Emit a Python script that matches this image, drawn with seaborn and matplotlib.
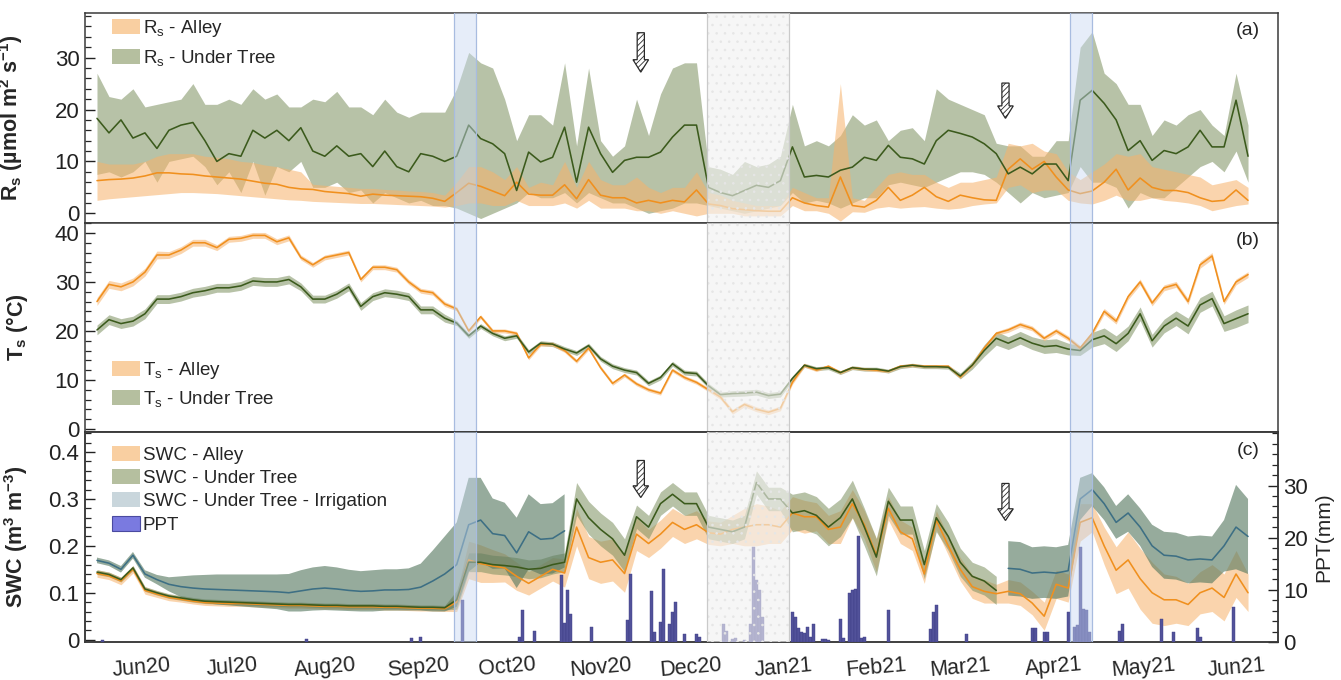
import numpy as np
import pandas as pd
import matplotlib
matplotlib.use("Agg")
import matplotlib.pyplot as plt
import matplotlib.dates as mdates
from matplotlib.ticker import MultipleLocator, FixedLocator
from matplotlib.patches import Patch, FancyArrow
import seaborn as sns

nan = np.nan

# ---------------- sampling grid (every 4th day of the daily record) ----------------
GRID_START = "2020-05-17"
GRID_STEP = "4D"
GRID_LEN = 97

# ---------------- (a) soil respiration, umol m-2 s-1 ----------------
RS_ALLEY = [6.3, 6.5, 6.6, 6.8, 7.2, 7.8, 7.8, 7.6, 7.5, 7.2, 7.0, 6.8, 6.6, 6.2, 5.8, 5.6, 5.0, 4.7, 4.6, 4.2,
            4.0, 3.8, 3.3, 3.7, 3.5, 3.4, 3.3, 3.2, 2.9, 2.3,
            4.0, 5.8, 5.2, 4.3, 3.4, 6.0, 3.7, 3.5, 3.5, 5.5, 2.8, 6.5, 3.5, 3.0, 3.0, 2.0, 2.5, 2.0, 2.5, 2.2,
            4.5, 1.8, 1.5, 0.9, 0.7, 0.5, 0.4, 0.4, 3.0, 2.0, 1.5, 1.2, 7.0, 1.5, 1.2, 2.5,
            5.0, 2.5, 3.5, 5.0, 3.2, 2.3, 3.5, 3.0, 2.6, 2.5, 8.5, 10.5, 8.5, 10.0, 7.0, 4.5, 3.8, 4.3, 6.0, 8.5,
            4.5, 6.8, 5.0, 4.4, 4.4, 4.0, 3.0, 2.3, 2.5, 4.5, 2.5]
RS_ALLEY_LO = [2.5, 2.8, 3.0, 3.2, 3.4, 3.6, 3.8, 4.0, 4.0, 3.9, 3.8, 3.6, 3.4, 3.2, 3.0, 2.8, 2.6, 2.5, 2.3, 2.2,
               2.1, 2.0, 1.9, 1.9, 1.8, 1.7, 1.6, 1.5, 1.4, 1.2,
               1.5, 2.0, 2.0, 1.5, 1.5, 2.5, 1.5, 1.5, 1.5, 2.0, 1.0, 2.5, 1.0, 1.0, 1.0, 0.5, 0.5, 0.0, 0.5, 0.0,
               -0.5, 0.0, 0.0, 0.0, -0.5, -0.5, -0.5, -0.5, 1.5, 0.5, 0.5, 0.0, -1.5, 0.3, 0.2, 1.0,
               1.3, 1.0, 1.2, 1.3, 1.0, 0.8, 1.0, 1.5, 1.8, 2.0, 5.0, 5.5, 4.0, 4.5, 4.5, 2.5, 2.0, 1.8, 2.5, 3.5,
               2.5, 2.5, 3.0, 2.5, 2.3, 2.0, 1.5, 0.5, 1.0, 1.5, 1.8]
RS_ALLEY_HI = [10.0, 9.5, 9.5, 9.5, 10.0, 11.0, 11.5, 11.5, 11.5, 11.0, 10.8, 10.5, 10.0, 9.8, 9.3, 9.0, 8.5, 8.0, 5.6, 5.4,
               5.2, 5.0, 4.8, 4.8, 4.6, 4.5, 4.3, 4.2, 4.0, 3.5,
               6.0, 9.0, 9.0, 8.0, 6.5, 9.0, 5.0, 6.0, 5.5, 10.0, 5.0, 10.0, 6.5, 5.5, 5.5, 7.0, 5.0, 4.0, 5.0, 5.0,
               8.0, 4.0, 3.5, 2.5, 2.0, 1.5, 1.5, 1.5, 5.0, 4.0, 3.0, 3.0, 25.0, 3.0, 2.5, 5.0,
               7.5, 8.0, 7.5, 7.5, 6.0, 5.0, 6.0, 6.0, 6.5, 7.0, 13.5, 13.0, 13.5, 12.0, 11.5, 8.0, 6.5, 8.0, 9.5, 11.5,
               11.0, 11.5, 9.0, 8.5, 8.0, 7.5, 7.0, 5.5, 6.0, 6.5, 5.0]
RS_TREE = [18.3, 15.5, 18.0, 14.5, 15.5, 12.5, 16.0, 17.0, 17.5, 14.0, 10.0, 11.5, 11.0, 16.0, 14.5, 16.0, 14.0, 16.5, 12.0, 11.0,
           13.0, 11.0, 11.5, 9.0, 12.0, 9.0, 8.0, 11.5, 11.0, 10.0,
           11.0, 17.0, 14.4, 13.4, 11.5, 4.4, 11.8, 9.9, 10.8, 16.6, 6.0, 16.6, 11.5, 7.9, 10.2, 10.8, 10.8, 11.8, 14.7, 17.0,
           17.0, 5.0, 4.0, 3.4, 4.4, 5.4, 5.0, 6.3, 12.8, 7.0, 7.3, 7.0, 8.3, 8.9, 10.8, 10.2,
           13.1, 10.8, 10.5, 9.5, 14.0, 16.0, 15.4, 14.7, 13.4, 11.5, 7.6, 8.9, 7.6, 9.5, 9.5, 6.3, 21.8, 23.7, 21.2, 18.0,
           12.1, 14.0, 10.2, 12.1, 11.5, 12.8, 16.0, 12.8, 12.8, 21.8, 11.0]
RS_TREE_LO = [7.5, 8.0, 7.0, 8.0, 10.0, 6.0, 10.0, 10.5, 11.0, 9.0, 5.5, 8.0, 4.0, 10.0, 3.5, 9.0, 8.0, 10.0, 5.0, 5.0,
              6.0, 4.0, 4.5, 2.0, 4.0, 3.0, 2.0, 2.5, 1.5, 1.5,
              1.0, 0.0, -1.0, 0.0, 1.0, 2.0, 4.0, 3.0, 3.0, 4.0, 2.0, 4.0, 3.0, 2.0, 2.0, 1.0, 0.0, 0.5, 1.0, 2.0,
              2.0, 1.5, 1.0, 0.5, 0.0, 0.5, 1.0, 1.5, 4.0, 2.0, 2.5, 2.0, 1.0, 2.0, 3.0, 3.0,
              5.5, 6.0, 5.5, 5.0, 6.0, 7.0, 8.0, 8.0, 7.5, 6.0, 4.0, 2.0, 4.0, 3.0, 3.5, 4.0, 9.0, 6.0, 6.0, 5.0,
              1.0, 4.0, 3.0, 3.0, 5.0, 7.0, 9.0, 10.0, 8.0, 12.0, 6.0]
RS_TREE_HI = [27.0, 22.5, 22.0, 24.0, 20.5, 21.0, 21.5, 22.0, 25.0, 21.0, 21.0, 22.0, 21.0, 24.0, 22.0, 23.0, 20.5, 20.5, 22.0, 21.5,
              23.5, 20.5, 20.5, 19.0, 22.0, 19.5, 18.5, 19.5, 19.5, 19.5,
              24.0, 31.0, 29.0, 28.0, 22.0, 14.0, 19.0, 19.0, 17.0, 29.0, 13.0, 28.0, 14.0, 11.0, 13.0, 22.0, 15.0, 23.0, 28.0, 29.0,
              29.0, 9.0, 8.5, 7.5, 10.0, 9.0, 9.5, 11.0, 21.0, 13.0, 14.0, 13.0, 15.0, 19.0, 17.0, 18.0,
              14.0, 16.0, 16.5, 14.0, 24.0, 22.0, 21.0, 20.0, 19.0, 13.5, 13.0, 13.0, 11.0, 11.0, 14.0, 14.0, 32.0, 35.0, 27.0, 25.0,
              21.0, 21.0, 15.0, 18.0, 17.0, 19.0, 20.0, 17.0, 15.0, 27.0, 17.0]

# ---------------- (b) soil temperature, degC ----------------
TS_ALLEY = [26.0, 29.5, 29.0, 30.0, 32.0, 35.5, 35.5, 36.5, 38.0, 38.0, 37.0, 38.7, 38.9, 39.5, 39.5, 38.2, 39.0, 35.0, 33.5, 35.0,
            35.5, 36.0, 30.5, 33.0, 33.0, 32.5, 30.0, 28.2, 27.8, 25.5,
            24.5, 20.0, 22.9, 20.0, 20.0, 19.5, 14.5, 17.3, 17.3, 16.0, 13.8, 16.5, 12.5, 9.3, 11.0, 9.2, 8.0, 7.3, 12.0, 10.5,
            9.5, 8.0, 6.5, 3.5, 5.0, 4.0, 3.4, 4.2, 9.5, 13.0, 12.0, 12.8, 11.5, 12.5, 12.2, 12.0,
            11.8, 12.8, 13.0, 12.8, 12.8, 12.8, 10.6, 13.0, 16.5, 19.5, 20.2, 21.3, 20.5, 18.5, 20.0, 18.5, 16.5, 19.5, 24.0, 22.0,
            27.0, 30.0, 25.7, 28.8, 29.5, 26.0, 33.5, 35.3, 26.0, 30.0, 31.5]
TS_ALLEY_SD = [0.8, 0.8, 0.8, 0.8, 0.8, 0.8, 0.7, 0.7, 0.7, 0.7, 0.6, 0.6, 0.6, 0.6, 0.6, 0.6, 0.6, 0.5, 0.5, 0.5,
               0.5, 0.5, 0.5, 0.5, 0.5, 0.5, 0.5, 0.5, 0.5, 0.5,
               0.4, 0.4, 0.4, 0.4, 0.4, 0.4, 0.4, 0.4, 0.4, 0.4, 0.4, 0.4, 0.4, 0.4, 0.4, 0.4, 0.4, 0.4, 0.4, 0.4,
               0.4, 0.4, 0.5, 0.5, 0.5, 0.5, 0.5, 0.5, 0.4, 0.4, 0.3, 0.3, 0.3, 0.3, 0.3, 0.3,
               0.3, 0.3, 0.3, 0.3, 0.3, 0.3, 0.3, 0.3, 0.4, 0.4, 0.5, 0.5, 0.5, 0.5, 0.5, 0.5, 0.5, 0.5, 0.6, 0.6,
               0.6, 0.6, 0.6, 0.6, 0.6, 0.6, 0.7, 0.7, 0.6, 0.6, 0.6]
TS_TREE = [20.2, 22.3, 21.5, 22.0, 23.5, 26.5, 26.5, 27.0, 27.8, 28.2, 28.8, 28.8, 29.2, 30.2, 30.0, 30.0, 30.5, 29.0, 26.5, 26.5,
           27.5, 29.0, 25.0, 27.0, 27.8, 27.5, 27.0, 24.3, 24.3, 22.6,
           21.6, 19.0, 21.0, 19.5, 18.5, 19.0, 15.7, 17.5, 17.3, 16.3, 15.5, 17.0, 14.3, 12.8, 12.0, 11.5, 9.3, 10.5, 13.3, 11.5,
           11.3, 8.8, 7.0, 7.2, 7.3, 7.5, 6.8, 7.1, 10.3, 13.0, 12.3, 12.5, 11.5, 12.5, 12.2, 12.2,
           11.8, 12.7, 13.0, 12.7, 12.7, 12.6, 10.8, 13.0, 16.0, 18.5, 17.5, 18.6, 17.5, 16.8, 17.0, 16.3, 16.0, 18.2, 19.0, 17.4,
           19.5, 23.5, 18.0, 21.0, 22.6, 21.0, 25.3, 26.6, 21.5, 22.5, 23.5]
TS_TREE_SD = [1.0, 1.0, 1.0, 1.0, 1.0, 0.9, 0.9, 0.9, 0.9, 0.9, 0.9, 0.9, 0.9, 0.9, 0.9, 0.9, 0.9, 0.8, 0.8, 0.8,
              0.8, 0.8, 0.8, 0.8, 0.8, 0.8, 0.8, 0.8, 0.8, 0.8,
              0.5, 0.5, 0.5, 0.5, 0.5, 0.5, 0.5, 0.5, 0.5, 0.5, 0.5, 0.5, 0.5, 0.5, 0.5, 0.5, 0.5, 0.5, 0.5, 0.5,
              0.5, 0.5, 0.5, 0.6, 0.6, 0.6, 0.6, 0.6, 0.5, 0.4, 0.4, 0.4, 0.4, 0.4, 0.4, 0.4,
              0.4, 0.4, 0.4, 0.4, 0.4, 0.4, 0.6, 0.8, 1.2, 1.4, 1.3, 1.3, 1.3, 1.4, 1.4, 1.2, 1.0, 1.5, 1.6, 1.6,
              1.5, 1.4, 1.3, 1.4, 1.5, 1.6, 1.5, 1.5, 1.6, 1.8, 1.8]

# ---------------- (c) soil water content, m3 m-3 ----------------
SWC_ALLEY = [0.141, 0.136, 0.125, 0.150, 0.105, 0.097, 0.090, 0.086, 0.082, 0.079, 0.078, 0.077, 0.077, 0.076, 0.075,
             0.074, 0.073, 0.073, 0.072, 0.071, 0.071, 0.070, 0.070, 0.070, 0.069, 0.069, 0.068, 0.067, 0.067, 0.066,
             0.080, 0.170, 0.162, 0.157, 0.153, 0.135, 0.120, 0.135, 0.150, 0.142, 0.240, 0.175, 0.165, 0.170, 0.141,
             0.225, 0.205, 0.225, 0.250, 0.235, 0.245, 0.228, 0.225, 0.235, 0.240, 0.245, 0.245, 0.240, 0.270, 0.262,
             0.262, 0.235, 0.240, 0.290, 0.245, 0.180,
             0.280, 0.230, 0.215, 0.140, 0.255, 0.200, 0.150, 0.113, 0.103, 0.098, 0.103, 0.098, 0.078, 0.050, 0.118,
             0.110, 0.250, 0.260, 0.200, 0.148, 0.170, 0.130, 0.100, 0.085, 0.085, 0.075, 0.100, 0.110, 0.090, 0.140, 0.100]
SWC_ALLEY_SD = [0.008, 0.008, 0.008, 0.008, 0.008, 0.007, 0.007, 0.006, 0.006, 0.006, 0.006, 0.006, 0.006, 0.006, 0.006,
                0.006, 0.006, 0.006, 0.006, 0.006, 0.006, 0.006, 0.006, 0.006, 0.006, 0.006, 0.006, 0.006, 0.006, 0.006,
                0.020, 0.040, 0.040, 0.035, 0.030, 0.030, 0.025, 0.025, 0.025, 0.030, 0.040, 0.045, 0.045, 0.045, 0.040,
                0.035, 0.030, 0.030, 0.030, 0.030, 0.030, 0.025, 0.025, 0.030, 0.040, 0.045, 0.040, 0.035, 0.035, 0.035,
                0.030, 0.030, 0.035, 0.030, 0.030, 0.035,
                0.025, 0.025, 0.025, 0.020, 0.020, 0.020, 0.025, 0.025, 0.025, 0.020, 0.025, 0.025, 0.025, 0.030, 0.030,
                0.030, 0.040, 0.030, 0.040, 0.050, 0.060, 0.065, 0.065, 0.055, 0.050, 0.045, 0.045, 0.050, 0.050, 0.050, 0.040]
SWC_TREE = [0.144, 0.139, 0.128, 0.153, 0.108, 0.100, 0.093, 0.089, 0.085, 0.082, 0.081, 0.080, 0.079, 0.078, 0.077,
            0.076, 0.075, 0.075, 0.074, 0.073, 0.073, 0.072, 0.072, 0.072, 0.071, 0.071, 0.070, 0.069, 0.069, 0.068,
            0.085, 0.165, 0.165, 0.160, 0.158, 0.155, 0.150, 0.152, 0.160, 0.165, 0.300, 0.260, 0.235, 0.215, 0.180,
            0.262, 0.240, 0.290, 0.310, 0.290, 0.290, 0.240, 0.235, 0.230, 0.240, 0.335, 0.300, 0.300, 0.270, 0.275,
            0.265, 0.240, 0.260, 0.300, 0.240, 0.176,
            0.295, 0.255, 0.255, 0.160, 0.260, 0.220, 0.165, 0.135, 0.125, 0.105, nan, nan, nan, nan, nan,
            nan, nan, nan, nan, nan, nan, nan, nan, nan, nan, nan, nan, nan, nan, nan, nan]
SWC_TREE_SD = [0.005, 0.005, 0.005, 0.005, 0.005, 0.005, 0.005, 0.005, 0.005, 0.005, 0.005, 0.005, 0.005, 0.005, 0.005,
               0.005, 0.005, 0.005, 0.005, 0.005, 0.005, 0.005, 0.005, 0.005, 0.005, 0.005, 0.005, 0.005, 0.005, 0.005,
               0.020, 0.020, 0.020, 0.020, 0.020, 0.020, 0.020, 0.020, 0.020, 0.020, 0.035, 0.035, 0.035, 0.035, 0.035,
               0.025, 0.025, 0.025, 0.025, 0.025, 0.025, 0.025, 0.025, 0.025, 0.025, 0.025, 0.025, 0.025, 0.040, 0.040,
               0.040, 0.040, 0.040, 0.040, 0.040, 0.040,
               0.030, 0.030, 0.030, 0.030, 0.030, 0.030, 0.030, 0.030, 0.030, 0.030, nan, nan, nan, nan, nan,
               nan, nan, nan, nan, nan, nan, nan, nan, nan, nan, nan, nan, nan, nan, nan, nan]
SWC_IRR = [0.169, 0.163, 0.150, 0.180, 0.140, 0.128, 0.118, 0.113, 0.110, 0.108, 0.107, 0.106, 0.105, 0.104, 0.103,
           0.102, 0.100, 0.104, 0.108, 0.110, 0.108, 0.105, 0.103, 0.104, 0.106, 0.106, 0.107, 0.112, 0.125, 0.140,
           0.160, 0.245, 0.255, 0.226, 0.222, 0.185, 0.230, 0.214, 0.216, 0.232, nan, nan, nan, nan, nan,
           nan, nan, nan, nan, nan, nan, nan, nan, nan, nan, nan, nan, nan, nan, nan,
           nan, nan, nan, nan, nan, nan,
           nan, nan, nan, nan, nan, nan, nan, nan, nan, nan, 0.152, 0.150, 0.142, 0.144, 0.142,
           0.147, 0.300, 0.320, 0.290, 0.250, 0.270, 0.240, 0.200, 0.180, 0.178, 0.170, 0.172, 0.170, 0.200, 0.240, 0.220]
SWC_IRR_SD = [0.006, 0.006, 0.007, 0.007, 0.008, 0.010, 0.015, 0.022, 0.027, 0.030, 0.032, 0.033, 0.034, 0.035, 0.036,
              0.037, 0.040, 0.044, 0.046, 0.047, 0.046, 0.044, 0.043, 0.044, 0.044, 0.044, 0.045, 0.050, 0.065, 0.080,
              0.090, 0.100, 0.090, 0.075, 0.070, 0.075, 0.080, 0.075, 0.075, 0.078, nan, nan, nan, nan, nan,
              nan, nan, nan, nan, nan, nan, nan, nan, nan, nan, nan, nan, nan, nan, nan,
              nan, nan, nan, nan, nan, nan,
              nan, nan, nan, nan, nan, nan, nan, nan, nan, nan, 0.058, 0.058, 0.055, 0.055, 0.055,
              0.055, 0.045, 0.035, 0.035, 0.035, 0.040, 0.040, 0.045, 0.050, 0.050, 0.050, 0.050, 0.050, 0.055, 0.090, 0.080]

# ---------------- daily precipitation, mm ----------------
PPT_DATES = ["2020-05-19", "2020-07-26", "2020-08-30", "2020-09-02", "2020-09-16", "2020-10-05", "2020-10-06",
             "2020-10-10", "2020-10-19", "2020-10-20", "2020-10-21", "2020-10-22", "2020-10-29", "2020-11-10",
             "2020-11-11", "2020-11-18", "2020-11-19", "2020-11-21", "2020-11-22", "2020-11-24", "2020-11-25",
             "2020-11-26", "2020-11-29", "2020-12-03", "2020-12-04", "2020-12-12", "2020-12-13", "2020-12-15",
             "2020-12-16", "2020-12-19", "2020-12-21", "2020-12-22", "2020-12-23", "2020-12-24", "2020-12-25",
             "2021-01-04", "2021-01-05", "2021-01-06", "2021-01-07", "2021-01-08", "2021-01-09", "2021-01-10",
             "2021-01-11", "2021-01-14", "2021-01-15", "2021-01-16", "2021-01-20", "2021-01-21", "2021-01-23",
             "2021-01-24", "2021-01-25", "2021-01-26", "2021-01-27", "2021-01-28", "2021-02-05", "2021-02-19",
             "2021-02-20", "2021-02-21", "2021-03-03", "2021-03-25", "2021-03-26", "2021-03-29", "2021-03-30",
             "2021-04-06", "2021-04-08", "2021-04-09", "2021-04-10", "2021-04-11", "2021-04-12", "2021-04-13",
             "2021-04-23", "2021-04-24", "2021-05-07", "2021-05-11", "2021-05-19", "2021-05-20", "2021-05-31"]
PPT_MM = [0.3, 0.5, 0.8, 1.0, 8.0, 1.0, 6.1,
          2.2, 12.8, 3.6, 9.9, 5.4, 2.9, 4.3,
          13.1, 9.7, 1.9, 3.8, 14.0, 3.5, 5.7,
          7.7, 1.5, 1.6, 1.0, 3.5, 2.2, 0.6,
          0.8, 0.3, 3.5, 18.2, 11.8, 9.9, 4.8,
          5.7, 4.8, 2.6, 2.0, 1.8, 2.9, 1.0,
          3.5, 0.6, 0.6, 0.4, 4.5, 0.8, 9.3,
          9.9, 10.2, 20.4, 0.8, 1.0, 6.1, 2.4,
          5.7, 7.0, 1.6, 2.6, 2.6, 1.9, 1.9,
          5.7, 2.9, 3.2, 18.2, 6.4, 6.1, 1.9,
          2.2, 3.5, 4.5, 1.9, 2.6, 1.0, 6.7]
PPT_TICKS = [0, 10, 20, 30]

# ---------------- annotations ----------------
SPANS_BLUE = [("2020-09-13 00:00", "2020-09-20 08:00"), ("2021-04-06 12:00", "2021-04-13 20:00")]
SPAN_GREY = ("2020-12-06 12:00", "2021-01-02 22:00")
ARROW_DATES = ["2020-11-14 10:00", "2021-03-16 02:00"]
RS_ARROW_TOP = [34.8, 25.1]
RS_ARROW_TIP = [27.2, 18.3]
SWC_ARROW_TOP = [0.382, 0.333]
SWC_ARROW_TIP = [0.303, 0.254]

# ---------------- style ----------------
ALLEY_LINE, ALLEY_FILL, ALLEY_LEG = "#F0901E", "#F7B26A", "#F9CFA1"
TREE_LINE, TREE_FILL, TREE_LEG = "#3B5A1C", "#7D9060", "#B5BF9F"
IRR_LINE, IRR_FILL, IRR_LEG = "#3D6F84", "#56785F", "#C9D6DC"
PPT_FACE, PPT_EDGE, PPT_LEG = "#52529A", "#3D3D85", "#7A7AE0"

sns.set_theme(style="ticks")
plt.rcParams.update({
    "font.family": ["Liberation Sans", "DejaVu Sans"],
    "mathtext.fontset": "custom",
    "mathtext.rm": "Liberation Sans",
    "mathtext.it": "Liberation Sans:italic",
    "mathtext.bf": "Liberation Sans:bold",
    "axes.edgecolor": "#3a3a3a",
    "axes.linewidth": 1.1,
    "hatch.linewidth": 0.6,
    "axes.grid": False,
})

dates = pd.date_range(GRID_START, periods=GRID_LEN, freq=GRID_STEP)

fig = plt.figure(figsize=(13.41, 6.80), dpi=100)
gs = fig.add_gridspec(3, 1, left=85 / 1341, right=1278 / 1341, top=1 - 13 / 680,
                      bottom=1 - 642 / 680, hspace=0)
axa = fig.add_subplot(gs[0])
axb = fig.add_subplot(gs[1], sharex=axa)
axc = fig.add_subplot(gs[2], sharex=axa)


def draw_line(ax, y, color, lw=1.15, z=4):
    y = np.asarray(y, float)
    idx = np.flatnonzero(~np.isnan(y))
    runs = np.split(idx, np.flatnonzero(np.diff(idx) > 1) + 1)
    for r in runs:
        if len(r) < 2:
            continue
        sns.lineplot(x=dates[r], y=y[r], ax=ax, color=color, lw=lw, zorder=z,
                     legend=False, estimator=None, sort=False)


def draw_band(ax, lo, hi, color, alpha, z=2):
    lo = np.asarray(lo, float)
    hi = np.asarray(hi, float)
    ok = ~np.isnan(lo) & ~np.isnan(hi)
    ax.fill_between(dates, np.where(ok, lo, 0), np.where(ok, hi, 0), where=ok,
                    color=color, alpha=alpha, lw=0, zorder=z)


def sd_band(ax, mean, sd, color, alpha, z=2):
    m = np.asarray(mean, float)
    s = np.asarray(sd, float)
    draw_band(ax, m - s, m + s, color, alpha, z)


def shade(ax, z=6):
    for a, b in SPANS_BLUE:
        ax.axvspan(pd.Timestamp(a), pd.Timestamp(b), facecolor="#C8D9F2", alpha=0.45,
                   edgecolor="none", zorder=z)
        for t in (a, b):
            ax.axvline(pd.Timestamp(t), color="#A8BCE0", lw=0.9, zorder=z)
    ga, gb = pd.Timestamp(SPAN_GREY[0]), pd.Timestamp(SPAN_GREY[1])
    ax.axvspan(ga, gb, facecolor=(0.95, 0.95, 0.95, 0.62), edgecolor=(0.90, 0.90, 0.90, 1.0),
               hatch="..", lw=0, zorder=z)
    for t in (ga, gb):
        ax.axvline(t, color="#CACACA", lw=0.9, zorder=z)


def arrow(ax, date, top, tip, shaft, head_w, head_l):
    x = mdates.date2num(pd.Timestamp(date))
    ax.add_patch(FancyArrow(x, top, 0, tip - top, width=shaft, head_width=head_w,
                            head_length=head_l, length_includes_head=True,
                            facecolor="white", edgecolor="#2a2a2a", hatch="//////",
                            lw=0.9, zorder=9))


# ---- (a) ----
draw_band(axa, RS_TREE_LO, RS_TREE_HI, TREE_FILL, 0.55)
draw_band(axa, RS_ALLEY_LO, RS_ALLEY_HI, ALLEY_FILL, 0.55)
draw_line(axa, RS_ALLEY, ALLEY_LINE)
draw_line(axa, RS_TREE, TREE_LINE)

# ---- (b) ----
sd_band(axb, TS_TREE, TS_TREE_SD, TREE_FILL, 0.55)
sd_band(axb, TS_ALLEY, TS_ALLEY_SD, ALLEY_FILL, 0.55)
draw_line(axb, TS_ALLEY, ALLEY_LINE)
draw_line(axb, TS_TREE, TREE_LINE)

# ---- (c) ----
sd_band(axc, SWC_ALLEY, SWC_ALLEY_SD, ALLEY_FILL, 0.55)
sd_band(axc, SWC_TREE, SWC_TREE_SD, TREE_FILL, 0.55)
sd_band(axc, SWC_IRR, SWC_IRR_SD, IRR_FILL, 0.62)
draw_line(axc, SWC_ALLEY, ALLEY_LINE)
draw_line(axc, SWC_TREE, TREE_LINE)
draw_line(axc, SWC_IRR, IRR_LINE)

ax2 = axc.twinx()
ax2.bar(pd.to_datetime(PPT_DATES), PPT_MM, width=1.0, color=PPT_FACE, edgecolor=PPT_EDGE,
        lw=0.3, zorder=3)

# ---- shading & arrows ----
shade(axa)
shade(axb)
shade(ax2)
for d, t0, t1 in zip(ARROW_DATES, RS_ARROW_TOP, RS_ARROW_TIP):
    arrow(axa, d, t0, t1, 2.4, 5.2, 2.4)
for d, t0, t1 in zip(ARROW_DATES, SWC_ARROW_TOP, SWC_ARROW_TIP):
    arrow(axc, d, t0, t1, 2.4, 5.2, 0.025)

# ---- axes formatting ----
axa.set_xlim(pd.Timestamp("2020-05-13"), pd.Timestamp("2021-06-15"))
axa.set_ylim(-1.8, 38.6)
axb.set_ylim(-0.7, 42.1)
axc.set_ylim(-0.005, 0.442)
ax2.set_ylim(0, 40.2)

for ax, maj, mnr in ((axa, 10, 2), (axb, 10, 2), (axc, 0.1, 0.02)):
    ax.yaxis.set_major_locator(MultipleLocator(maj))
    ax.yaxis.set_minor_locator(MultipleLocator(mnr))
    ax.tick_params(axis="y", which="major", direction="in", length=7, width=1.0,
                   labelsize=16, left=True, right=False, pad=4, colors="#222222")
    ax.tick_params(axis="y", which="minor", direction="in", length=4, width=0.9, left=True, right=False)
    ax.set_xlabel("")
    for sp in ax.spines.values():
        sp.set_visible(True)
        sp.set_linewidth(1.1)
axc.yaxis.set_major_formatter(matplotlib.ticker.FuncFormatter(lambda v, p: "0" if abs(v) < 1e-9 else f"{v:.1f}"))

ax2.yaxis.set_major_locator(FixedLocator(PPT_TICKS))
ax2.yaxis.set_minor_locator(MultipleLocator(2))
ax2.tick_params(axis="y", which="major", direction="in", length=7, width=1.0, labelsize=16,
                right=True, left=False, pad=4, colors="#222222")
ax2.tick_params(axis="y", which="minor", direction="in", length=4, width=0.9, right=True, left=False)
ax2.set_ylabel("PPT(mm)", fontsize=15, labelpad=4)

axc.xaxis.set_major_locator(mdates.MonthLocator())
axc.xaxis.set_major_formatter(mdates.DateFormatter("%b%y"))
for ax in (axa, axb):
    ax.tick_params(axis="x", which="both", length=0, labelbottom=False)
axc.tick_params(axis="x", which="both", length=0, labelsize=15.5, pad=9, labelrotation=5)

axa.set_ylabel(r"$\mathbf{R_s}$ (µmol m$^{\mathbf{2}}$ s$^{\mathbf{-1}}$)", fontsize=15.5, fontweight="bold")
axb.set_ylabel(r"$\mathbf{T_s}$ (°C)", fontsize=15.5, fontweight="bold")
axc.set_ylabel(r"SWC (m$^{\mathbf{3}}$ m$^{\mathbf{-3}}$)", fontsize=15.5, fontweight="bold")
axa.yaxis.set_label_coords(-0.05, 0.5)
axb.yaxis.set_label_coords(-0.046, 0.5)
axc.yaxis.set_label_coords(-0.046, 0.5)

for ax, lab in ((axa, "(a)"), (axb, "(b)"), (axc, "(c)")):
    ax.text(0.985, 0.955, lab, transform=ax.transAxes, ha="right", va="top", fontsize=14, zorder=10)

leg_kw = dict(frameon=False, handlelength=1.5, handleheight=0.85, handletextpad=0.15,
              borderpad=0, borderaxespad=0, fontsize=13.5)
axa.legend(handles=[Patch(facecolor=ALLEY_LEG, edgecolor="none"), Patch(facecolor=TREE_LEG, edgecolor="none")],
           labels=[r"R$_\mathrm{s}$ - Alley", r"R$_\mathrm{s}$ - Under Tree"],
           loc="upper left", bbox_to_anchor=(0.0226, 0.975), labelspacing=0.45, **leg_kw).set_zorder(12)
axb.legend(handles=[Patch(facecolor=ALLEY_LEG, edgecolor="none"), Patch(facecolor=TREE_LEG, edgecolor="none")],
           labels=[r"T$_\mathrm{s}$ - Alley", r"T$_\mathrm{s}$ - Under Tree"],
           loc="lower left", bbox_to_anchor=(0.0226, 0.11), labelspacing=0.45, **leg_kw).set_zorder(12)
ax2.legend(handles=[Patch(facecolor=ALLEY_LEG, edgecolor="none"), Patch(facecolor=TREE_LEG, edgecolor="none"),
                    Patch(facecolor=IRR_LEG, edgecolor="none"),
                    Patch(facecolor=PPT_LEG, edgecolor="#4A4AA0", lw=0.8)],
           labels=["SWC - Alley", "SWC - Under Tree", "SWC - Under Tree - Irrigation", "PPT"],
           loc="upper left", bbox_to_anchor=(0.0226, 0.935), labelspacing=0.28, **leg_kw).set_zorder(12)

fig.savefig("out.png", dpi=100)
